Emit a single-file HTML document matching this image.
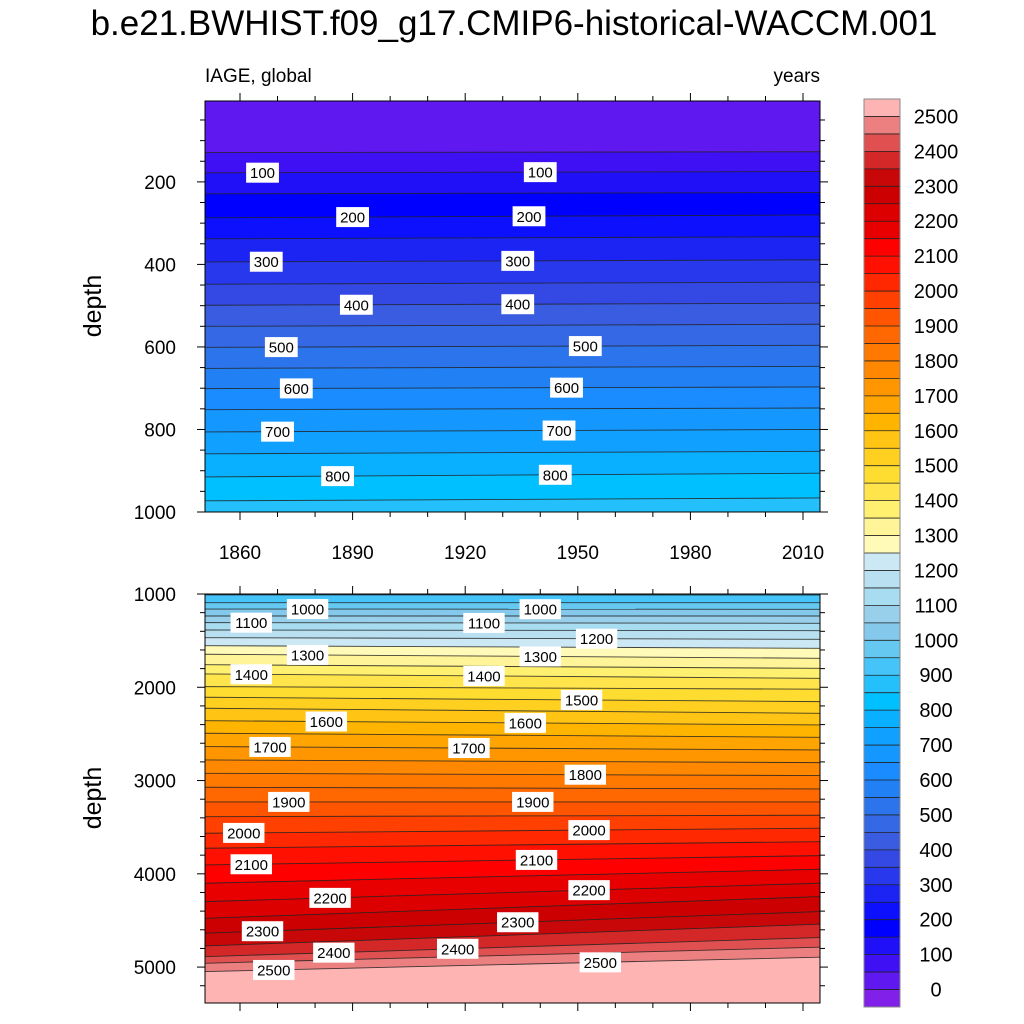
<!DOCTYPE html>
<html><head><meta charset="utf-8">
<style>
html,body{margin:0;padding:0;background:#fff;}
svg{display:block;font-family:"Liberation Sans",Arial,sans-serif;}
</style></head>
<body>
<svg id="chart" width="1024" height="1024" viewBox="0 0 1024 1024" xmlns="http://www.w3.org/2000/svg">
<text x="514" y="35" text-anchor="middle" font-size="35">b.e21.BWHIST.f09_g17.CMIP6-historical-WACCM.001</text>
<text x="205" y="82" font-size="19">IAGE, global</text>
<text x="820" y="82" text-anchor="end" font-size="19">years</text>
<g id="top"></g>
<g id="bot"></g>
<g id="cbar"></g>
<text transform="translate(101,306) rotate(-90)" text-anchor="middle" font-size="25">depth</text>
<text transform="translate(101,798) rotate(-90)" text-anchor="middle" font-size="25">depth</text>
</svg>
<script>
// colour table: index 0 = <0, index k = [50(k-1), 50k), index 51 = >=2500
const colors=["#8020e8","#6018f0","#4010f4","#2010f8","#0000ff","#0c10fc","#1c24f4","#2838ec","#3448e4","#3a5ce0","#3468e4","#2c74ec","#2080f4","#1a8cff","#1498ff","#10a0ff","#08b0ff","#00c0ff","#24c0fc","#44c4f8","#64c8f0","#84c8ec","#98d0ec","#a8dcf0","#b8e0f0","#cce8f4",
"#fffab8","#fff498","#fff070","#ffe44c","#ffdc30","#ffd020","#ffc414","#ffb400","#ffa400","#ff9600","#ff8800","#ff7800","#ff6800","#ff5400","#ff4000","#ff2800","#ff1000","#ff0000","#e80000","#dc0000","#cc0000","#c80808","#d42828","#e05050","#ec8080","#ffb4b4"];
const cbarLabels=[0,100,200,300,400,500,600,700,800,900,1000,1100,1200,1300,1400,1500,1600,1700,1800,1900,2000,2100,2200,2300,2400,2500];

// top panel contours
const topLevels=[50,100,150,200,250,300,350,400,450,500,550,600,650,700,750,800,850];
const topDepthLeft=[129,178,229,287,338,394,448,499,550,601,652,701,752,806,859,915,973];
const topDepthRight=[127,175,226,280,333,389,443,494,545,596,647,697,748,800,853,906,966];
const topLabelLevels=[100,100,200,200,300,300,400,400,500,500,600,600,700,700,800,800];
const topLabelYears=[1866,1940,1890,1937,1867,1934,1891,1934,1871,1952,1875,1947,1870,1945,1886,1944];

// bottom panel contours
const botLevels=[900,950,1000,1050,1100,1150,1200,1250,1300,1350,1400,1450,1500,1550,1600,1650,1700,1750,1800,1850,1900,1950,2000,2050,2100,2150,2200,2250,2300,2350,2400,2450,2500];
const botDepthLeft=[1010,1093,1161,1236,1307,1386,1468,1554,1646,1758,1857,1993,2107,2225,2358,2493,2636,2779,2922,3072,3229,3387,3565,3726,3905,4101,4298,4477,4637,4773,4888,4959,5048];
const botDepthRight=[1011,1093,1164,1236,1314,1393,1486,1582,1689,1797,1904,2021,2154,2279,2404,2536,2672,2808,2947,3090,3229,3372,3511,3655,3805,3951,4101,4244,4405,4540,4683,4787,4894];
const botLabelLevels=[1000,1000,1100,1100,1200,1300,1300,1400,1400,1500,1600,1600,1700,1700,1800,1900,1900,2000,2000,2100,2100,2200,2200,2300,2300,2400,2400,2500,2500];
const botLabelYears=[1878,1940,1863,1925,1955,1878,1940,1863,1925,1951,1883,1936,1868,1921,1952,1873,1938,1861,1953,1863,1939,1884,1953,1866,1934,1885,1918,1869,1956];

const topTicksY=[200,400,600,800,1000];
const botTicksY=[1000,2000,3000,4000,5000];
const xTicks=[1860,1890,1920,1950,1980,2010];

const NS="http://www.w3.org/2000/svg";
function mk(tag,attrs,parent){const e=document.createElementNS(NS,tag);for(const k in attrs)e.setAttribute(k,attrs[k]);parent.appendChild(e);return e;}
const X0=205,X1=820;
function xs(yr){return 240+(yr-1860)*(803-240)/150;}

function drawPanel(g,top,bottom,dTop,dBot,levels,dL,dR,labLev,labYr,ticks,minorStep,namePrefix){
  const ys=d=>top+(d-dTop)*(bottom-top)/(dBot-dTop);
  const bg=mk('rect',{x:X0,y:top,width:X1-X0,height:bottom-top,fill:colors[levels[0]/50]},g);
  
  
  const clipId=namePrefix+'clip';
  const cp=mk('clipPath',{id:clipId},g);
  mk('rect',{x:X0,y:top,width:X1-X0,height:bottom-top},cp);
  const bands=mk('g',{'clip-path':'url(#'+clipId+')'},g);
  levels.forEach((lv,i)=>{
    const yl=ys(dL[i]),yr=ys(dR[i]);
    const p=mk('polygon',{points:`${X0},${yl} ${X1},${yr} ${X1},${bottom} ${X0},${bottom}`,fill:colors[lv/50+1]},bands);
    
    
  });
  levels.forEach((lv,i)=>{
    const l=mk('line',{x1:X0,y1:ys(dL[i]),x2:X1,y2:ys(dR[i]),stroke:'#222','stroke-width':0.9,'stroke-opacity':0.85},bands);
    
    
  });
  labLev.forEach((lv,j)=>{
    const i=levels.indexOf(lv);const x=xs(labYr[j]);
    const t=(x-X0)/(X1-X0);
    const y=ys(dL[i]+(dR[i]-dL[i])*t);
    const s=String(lv);const w=s.length*8.6+7;
    const r=mk('rect',{x:x-w/2,y:y-10,width:w,height:20,fill:'#fff'},g);
    
    
    const tx=mk('text',{x:x,y:y+5.5,'text-anchor':'middle','font-size':15},g);
    tx.textContent=s;
    
    
  });
  const fr=mk('rect',{x:X0,y:top,width:X1-X0,height:bottom-top,fill:'none',stroke:'#000','stroke-width':1},g);
  
  
  for(let yr=1860;yr<=2010;yr+=10){
    const x=xs(yr);const L=(yr-1860)%30===0?8:5;
    mk('line',{x1:x,y1:top,x2:x,y2:top-L,stroke:'#000'},g);
    mk('line',{x1:x,y1:bottom,x2:x,y2:bottom+L,stroke:'#000'},g);
  }
  for(let d=Math.ceil(dTop/minorStep)*minorStep;d<=dBot;d+=minorStep){
    const y=ys(d);const major=ticks.indexOf(d)>=0;const L=major?8:5;
    mk('line',{x1:X0,y1:y,x2:X0-L,y2:y,stroke:'#000'},g);
    mk('line',{x1:X1,y1:y,x2:X1+L,y2:y,stroke:'#000'},g);
  }
  ticks.forEach(d=>{
    const t=mk('text',{x:X0-29,y:ys(d)+7,'text-anchor':'end','font-size':19},g);
    t.textContent=d;
    
    
  });
  return ys;
}
const gT=document.getElementById('top'),gB=document.getElementById('bot');
drawPanel(gT,101,512,4,1000,topLevels,topDepthLeft,topDepthRight,topLabelLevels,topLabelYears,topTicksY,50,'top');
drawPanel(gB,594,1003,1000,5385,botLevels,botDepthLeft,botDepthRight,botLabelLevels,botLabelYears,botTicksY,200,'bottom');
xTicks.forEach(yr=>{
  const t=mk('text',{x:xs(yr),y:559,'text-anchor':'middle','font-size':19},gT);
  t.textContent=yr;
  
  
});
const cb=document.getElementById('cbar');
const cbTop=99,cbBot=1007,bh=(cbBot-cbTop)/colors.length;
colors.forEach((c,i)=>{
  const y=cbBot-(i+1)*bh;
  const r=mk('rect',{x:864,y:y,width:36,height:bh,fill:c},cb);
  
  
  if(i>0) mk('line',{x1:864,y1:y+bh,x2:900,y2:y+bh,stroke:'#222','stroke-width':0.8},cb);
});
mk('rect',{x:864,y:cbTop,width:36,height:cbBot-cbTop,fill:'none',stroke:'#888','stroke-width':1},cb);
cbarLabels.forEach(v=>{
  const y=cbBot-(v/50+1)*bh;
  const t=mk('text',{x:936,y:y+7,'text-anchor':'middle','font-size':20},cb);
  t.textContent=v;
  
  
});
</script>
</body></html>
